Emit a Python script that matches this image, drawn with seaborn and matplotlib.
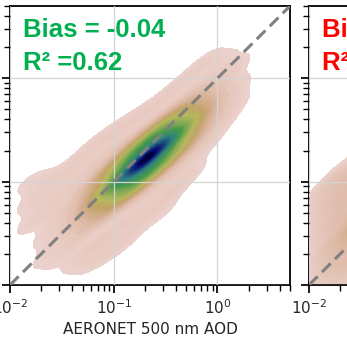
"""Density comparison of satellite vs AERONET 500 nm AOD (two panels, left one in full)."""

import matplotlib
matplotlib.use("Agg")
import matplotlib.pyplot as plt
from matplotlib.colors import ListedColormap
import numpy as np
import pandas as pd
import seaborn as sns


AOD_MIN, AOD_MAX = 0.01, 5.0

# panel 1, log10 AOD: the dense core of matchups (three rows across the ridge) ...
core_x_1 = [-1.28, -1.13, -0.98, -0.83, -0.68, -0.53, -0.38, -0.23, -0.08] * 3
core_y_1 = ([-1.25, -1.13, -1.01, -0.89, -0.77, -0.65, -0.53, -0.41, -0.29]
            + [-1.40, -1.28, -1.16, -1.04, -0.92, -0.80, -0.68, -0.56, -0.44]
            + [-1.10, -0.98, -0.86, -0.74, -0.62, -0.50, -0.38, -0.26, -0.14])
core_w_1 = ([0.56, 1.98, 4.87, 8.35, 10.0, 8.35, 4.87, 1.98, 0.56]
            + [0.26, 0.91, 2.23, 3.82, 4.58, 3.82, 2.23, 0.91, 0.26]
            + [0.26, 0.91, 2.23, 3.82, 4.58, 3.82, 2.23, 0.91, 0.26])

# ... and the sparse scatter around it
spread_x_1 = ([-1.85] * 3 + [-1.7] * 5 + [-1.55] * 5 + [-1.4] * 6 + [-1.25] * 7 + [-1.1] * 7
              + [-0.95] * 7 + [-0.8] * 7 + [-0.65] * 6 + [-0.5] * 7 + [-0.35] * 6 + [-0.2] * 6
              + [-0.05] * 5 + [0.1] * 4 + [0.22] * 3)
spread_y_1 = [-1.02, -1.22, -1.42,
              -0.98, -1.17, -1.36, -1.56, -1.76,
              -0.96, -1.16, -1.36, -1.56, -1.76,
              -0.85, -1.04, -1.23, -1.42, -1.6, -1.8,
              -0.68, -0.87, -1.06, -1.25, -1.45, -1.65, -1.8,
              -0.58, -0.76, -0.95, -1.15, -1.35, -1.55, -1.72,
              -0.48, -0.66, -0.85, -1.05, -1.25, -1.45, -1.63,
              -0.38, -0.56, -0.75, -0.95, -1.15, -1.33, -1.5,
              -0.3, -0.5, -0.7, -0.9, -1.1, -1.3,
              -0.17, -0.35, -0.55, -0.75, -0.95, -1.13, -1.28,
              -0.05, -0.25, -0.45, -0.65, -0.85, -1.03,
              0.1, -0.1, -0.3, -0.5, -0.7, -0.88,
              0.2, 0.0, -0.2, -0.4, -0.6,
              0.2, 0.0, -0.2, -0.4,
              0.15, -0.05, -0.22]
SPREAD_W_1 = 0.27

# panel 2 (only its left edge is in view)
core_x_2 = [-1.4, -1.2, -1.0, -0.8, -0.6, -0.4, -0.2]
core_y_2 = [-1.3, -1.1, -0.9, -0.7, -0.5, -0.3, -0.1]
core_w_2 = [1.0, 3.0, 6.0, 8.0, 6.0, 3.0, 1.0]
spread_x_2 = [-1.85] * 5 + [-1.7] * 6 + [-1.55] * 6 + [-1.4] * 6 + [-1.25] * 6
spread_y_2 = [-1.05, -1.25, -1.45, -1.65, -1.85,
              -0.95, -1.15, -1.35, -1.55, -1.75, -1.92,
              -0.9, -1.1, -1.3, -1.5, -1.7, -1.92,
              -0.8, -1.0, -1.2, -1.4, -1.6, -1.85,
              -0.7, -0.9, -1.1, -1.3, -1.5, -1.8]
SPREAD_W_2 = 0.3

STATS = [("Bias = -0.04", "R² =0.62", "#00b050"), ("Bias = 0.11", "R² =0.35", "#ff0000")]


def build_table(core_x, core_y, core_w, spread_x, spread_y, spread_w):
    log_x = list(core_x) + list(spread_x)
    log_y = list(core_y) + list(spread_y)
    weight = list(core_w) + [spread_w] * len(spread_x)
    return pd.DataFrame({
        "aeronet": np.power(10.0, log_x),
        "retrieval": np.power(10.0, log_y),
        "weight": weight,
    })


def density_cmap() -> ListedColormap:
    base = plt.get_cmap("gist_earth_r")
    return ListedColormap(base(np.linspace(0.065, 1.0, 256)))


def draw_panel(ax, data, bias_text, r2_text, color):
    sns.kdeplot(
        data=data, x="aeronet", y="retrieval", weights="weight",
        fill=True, levels=60, thresh=0.02, cmap=density_cmap(),
        log_scale=True, bw_adjust=0.6, gridsize=200, ax=ax,
    )
    ax.plot([AOD_MIN, AOD_MAX], [AOD_MIN, AOD_MAX], color="#808080",
            linewidth=2.2, linestyle=(0, (4, 2)), zorder=3)
    ax.set_xlim(AOD_MIN, AOD_MAX)
    ax.set_ylim(AOD_MIN, AOD_MAX)
    ax.grid(True, which="major", color="#d3d3d3", linewidth=0.9, zorder=2)
    ax.set_axisbelow(False)
    ax.set_xlabel("AERONET 500 nm AOD", fontsize=11)
    ax.set_ylabel("")
    ax.tick_params(which="both", direction="out", color="black", labelsize=11,
                   labelleft=False)
    for spine in ax.spines.values():
        spine.set_visible(True)
        spine.set_color("black")
        spine.set_linewidth(1.3)
    font = dict(family="Liberation Sans", fontweight="bold", fontsize=18.5, color=color,
                transform=ax.transAxes, va="baseline", ha="left")
    ax.text(0.046, 0.889, bias_text, **font)
    ax.text(0.046, 0.771, r2_text, **font)


def main():
    sns.set_theme(style="ticks")
    plt.rcParams["font.family"] = ["DejaVu Sans"]

    fig = plt.figure(figsize=(3.47, 3.42), dpi=100)
    ax1 = fig.add_axes([10 / 347, 57 / 342, 280 / 347, 279 / 342])
    ax2 = fig.add_axes([309 / 347, 57 / 342, 280 / 347, 279 / 342])

    panels = [
        build_table(core_x_1, core_y_1, core_w_1, spread_x_1, spread_y_1, SPREAD_W_1),
        build_table(core_x_2, core_y_2, core_w_2, spread_x_2, spread_y_2, SPREAD_W_2),
    ]
    for ax, data, (bias_text, r2_text, color) in zip([ax1, ax2], panels, STATS):
        draw_panel(ax, data, bias_text, r2_text, color)

    fig.savefig("out.png", dpi=100)
    plt.close(fig)


if __name__ == "__main__":
    main()
